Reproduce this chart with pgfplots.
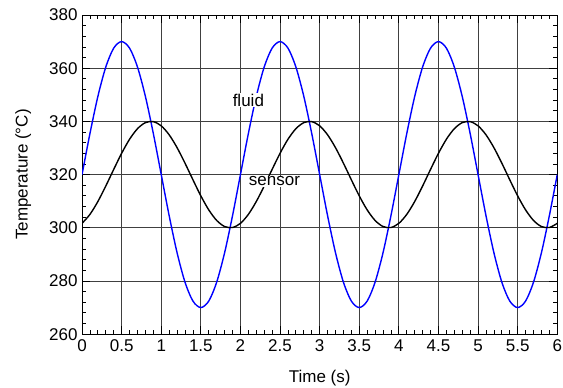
\documentclass[border=0pt]{standalone}
\usepackage{pgfplots}
\pgfplotsset{compat=1.18}
\usepackage{pgfplotstable}
\usepackage{fontspec}
\setmainfont{Liberation Sans}
\pgfplotstableread{
t fluid sensor
0.0 320.00 301.67
0.1 335.45 305.04
0.2 349.39 309.88
0.3 360.45 315.71
0.4 367.55 321.95
0.5 370.00 328.01
0.6 367.55 333.28
0.7 360.45 337.25
0.8 349.39 339.53
0.9 335.45 339.90
1.0 320.00 338.33
1.1 304.55 334.96
1.2 290.61 330.12
1.3 279.55 324.29
1.4 272.45 318.05
1.5 270.00 311.99
1.6 272.45 306.72
1.7 279.55 302.75
1.8 290.61 300.47
1.9 304.55 300.10
2.0 320.00 301.67
2.1 335.45 305.04
2.2 349.39 309.88
2.3 360.45 315.71
2.4 367.55 321.95
2.5 370.00 328.01
2.6 367.55 333.28
2.7 360.45 337.25
2.8 349.39 339.53
2.9 335.45 339.90
3.0 320.00 338.33
3.1 304.55 334.96
3.2 290.61 330.12
3.3 279.55 324.29
3.4 272.45 318.05
3.5 270.00 311.99
3.6 272.45 306.72
3.7 279.55 302.75
3.8 290.61 300.47
3.9 304.55 300.10
4.0 320.00 301.67
4.1 335.45 305.04
4.2 349.39 309.88
4.3 360.45 315.71
4.4 367.55 321.95
4.5 370.00 328.01
4.6 367.55 333.28
4.7 360.45 337.25
4.8 349.39 339.53
4.9 335.45 339.90
5.0 320.00 338.33
5.1 304.55 334.96
5.2 290.61 330.12
5.3 279.55 324.29
5.4 272.45 318.05
5.5 270.00 311.99
5.6 272.45 306.72
5.7 279.55 302.75
5.8 290.61 300.47
5.9 304.55 300.10
6.0 320.00 301.67
}\datatable
\begin{document}
\begin{tikzpicture}
\begin{axis}[
  scale only axis,
  width=475pt, height=319pt,
  xmin=0, xmax=6, ymin=260, ymax=380,
  xtick={0,0.5,...,6},
  ytick={260,280,...,380},
  minor x tick num=4,
  minor y tick num=4,
  xticklabels={0,0.5,1,1.5,2,2.5,3,3.5,4,4.5,5,5.5,6},
  tick align=inside,
  major tick length=8pt,
  minor tick length=4pt,
  tick style={black, line width=0.8pt},
  xmajorgrids, ymajorgrids,
  major grid style={black!75, line width=0.9pt},
  axis line style={black, line width=1pt},
  /pgf/number format/assume math mode=true,
  /pgf/number format/.cd, fixed, 1000 sep={}, /pgfplots/.cd,
  tick label style={font=\fontsize{17}{20}\selectfont},
  label style={font=\fontsize{17}{20}\selectfont},
  xlabel={Time (s)},
  ylabel={Temperature (°C)},
  xticklabel style={inner sep=1pt, yshift=-4.3pt},
  yticklabel style={xshift=-1pt},
  ylabel style={at={(axis description cs:-0.124,0.5)}, anchor=center, inner sep=0pt},
  xlabel style={at={(axis description cs:0.5,-0.138)}, anchor=center, inner sep=0pt},
]
\addplot[blue, line width=1.4pt, smooth] table[x=t, y=fluid] {\datatable};
\addplot[black, line width=1.4pt, smooth] table[x=t, y=sensor] {\datatable};
\node[fill=white, inner sep=1pt, font=\fontsize{17}{20}\selectfont] at (axis cs:2.1,348) {fluid};
\node[fill=white, inner sep=1pt, font=\fontsize{17}{20}\selectfont] at (axis cs:2.43,317.5) {sensor};
\end{axis}
\path (current axis.south west) ++(-82pt,-53pt) (current axis.north east) ++(5pt,15pt);
\end{tikzpicture}
\end{document}
